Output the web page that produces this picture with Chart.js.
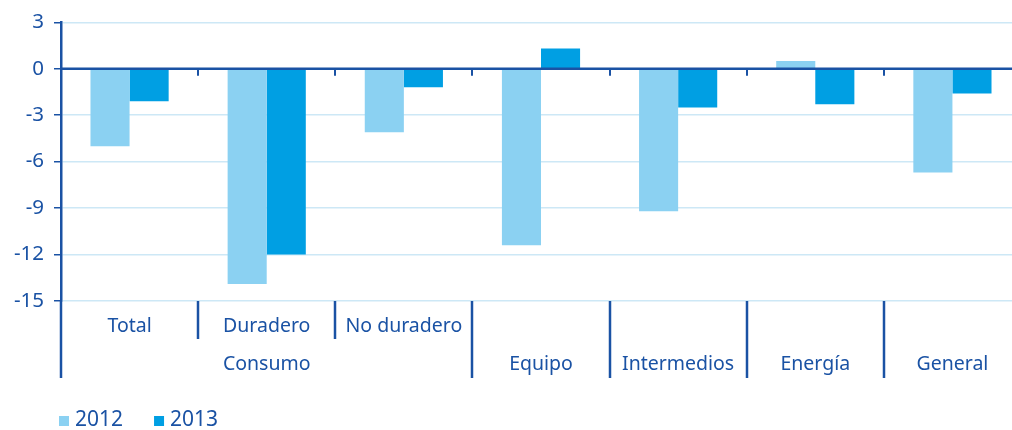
<!DOCTYPE html>
<html>
<head>
<meta charset="utf-8">
<script src="https://cdn.jsdelivr.net/npm/chart.js@4"></script>
<style>
  html, body { margin: 0; padding: 0; background: #fff; overflow: hidden; }
  #wrap { width: 1024px; height: 430px; }
</style>
</head>
<body>
<div id="wrap"><canvas id="c" width="1024" height="430"></canvas></div>
<script>
// ---- data ----
const categories = ['Total', 'Duradero', 'No duradero', 'Equipo', 'Intermedios', 'Energía', 'General'];
const subLabels = ['Total', 'Duradero', 'No duradero', '', '', '', ''];
const groupLabels = ['Consumo', 'Equipo', 'Intermedios', 'Energía', 'General'];
const groupSpans = [3, 1, 1, 1, 1];
const seriesNames = ['2012', '2013'];
const values2012 = [-5.0, -13.9, -4.1, -11.4, -9.2, 0.5, -6.7];
const values2013 = [-2.1, -12.0, -1.2, 1.3, -2.5, -2.3, -1.6];
const yTicks = [3, 0, -3, -6, -9, -12, -15];

// ---- styles ----
const DARK = '#1a52a4';
const GRID = '#cde8f6';
const C2012 = '#8bd1f2';
const C2013 = '#009fe3';
const FONT = '"Noto Sans", "Open Sans", sans-serif';

const overlay = {
  id: 'overlay',
  afterDatasetsDraw(chart) {
    const ctx = chart.ctx;
    const x = chart.scales.x, y = chart.scales.y;
    const ca = chart.chartArea;
    const y0 = y.getPixelForValue(0);
    const yb = ca.bottom;
    const row1 = yb + 25, row2 = yb + 63;
    const shortEnd = yb + 38, longEnd = yb + 77;
    ctx.save();
    // zero line over bars
    ctx.strokeStyle = DARK;
    ctx.lineWidth = 2.5;
    ctx.beginPath();
    ctx.moveTo(ca.left, y0);
    ctx.lineTo(ca.right, y0);
    ctx.stroke();
    // boundaries
    const n = categories.length;
    const bx = i => (i === 0 ? ca.left : (i === n ? ca.right : (x.getPixelForValue(i - 1) + x.getPixelForValue(i)) / 2));
    ctx.lineWidth = 2;
    for (let i = 1; i < n; i++) {
      const px = Math.round(bx(i));
      ctx.beginPath(); ctx.moveTo(px, y0); ctx.lineTo(px, y0 + 7); ctx.stroke();
    }
    const groupStart = new Set();
    let acc = 0;
    groupSpans.forEach(s => { groupStart.add(acc); acc += s; });
    groupStart.add(n);
    ctx.lineWidth = 2.5;
    for (let i = 0; i <= n; i++) {
      const px = Math.round(bx(i));
      const end = groupStart.has(i) ? longEnd : shortEnd;
      ctx.beginPath(); ctx.moveTo(px, yb); ctx.lineTo(px, end); ctx.stroke();
    }
    // labels
    ctx.fillStyle = DARK;
    ctx.font = '19.5px ' + FONT;
    ctx.textAlign = 'center';
    ctx.textBaseline = 'middle';
    subLabels.forEach((l, i) => { if (l) ctx.fillText(l, x.getPixelForValue(i), row1); });
    acc = 0;
    groupLabels.forEach((g, gi) => {
      const a = acc, b = acc + groupSpans[gi] - 1;
      const cx = (x.getPixelForValue(a) + x.getPixelForValue(b)) / 2;
      ctx.fillText(g, cx, row2);
      acc += groupSpans[gi];
    });
    // legend
    ctx.textAlign = 'left';
    ctx.font = '21px ' + FONT;
    let lx = 59;
    const ly = 420;
    chart.data.datasets.forEach(ds => {
      ctx.fillStyle = ds.backgroundColor;
      ctx.fillRect(lx, ly - 4, 10, 10);
      ctx.fillStyle = DARK;
      ctx.fillText(ds.label, lx + 16, ly);
      lx += 16 + ctx.measureText(ds.label).width + 31;
    });
    ctx.restore();
  }
};

new Chart(document.getElementById('c'), {
  type: 'bar',
  data: {
    labels: categories,
    datasets: [
      { label: seriesNames[0], data: values2012, backgroundColor: C2012 },
      { label: seriesNames[1], data: values2013, backgroundColor: C2013 }
    ]
  },
  options: {
    responsive: false,
    devicePixelRatio: 1,
    animation: false,
    layout: { padding: { top: 22, right: 3, left: 0, bottom: 0 } },
    datasets: { bar: { categoryPercentage: 0.57, barPercentage: 1.0 } },
    plugins: { legend: { display: false }, tooltip: { enabled: false } },
    scales: {
      x: {
        grid: { display: false, drawTicks: false },
        border: { display: false },
        ticks: { display: false },
        afterFit(s) { s.height = 129; }
      },
      y: {
        min: -15, max: 3,
        afterBuildTicks(s) { s.ticks = yTicks.map(v => ({ value: v })); },
        afterFit(s) { s.width = 61; },
        border: { display: true, color: DARK, width: 2.5 },
        grid: {
          color: ctx => (ctx.tick && ctx.tick.value === 0 ? DARK : GRID),
          lineWidth: 1.5,
          tickColor: DARK,
          tickLength: 7
        },
        ticks: {
          color: DARK,
          padding: 10,
          font: { size: 20.5, family: FONT }
        }
      }
    }
  },
  plugins: [overlay]
});
</script>
</body>
</html>
